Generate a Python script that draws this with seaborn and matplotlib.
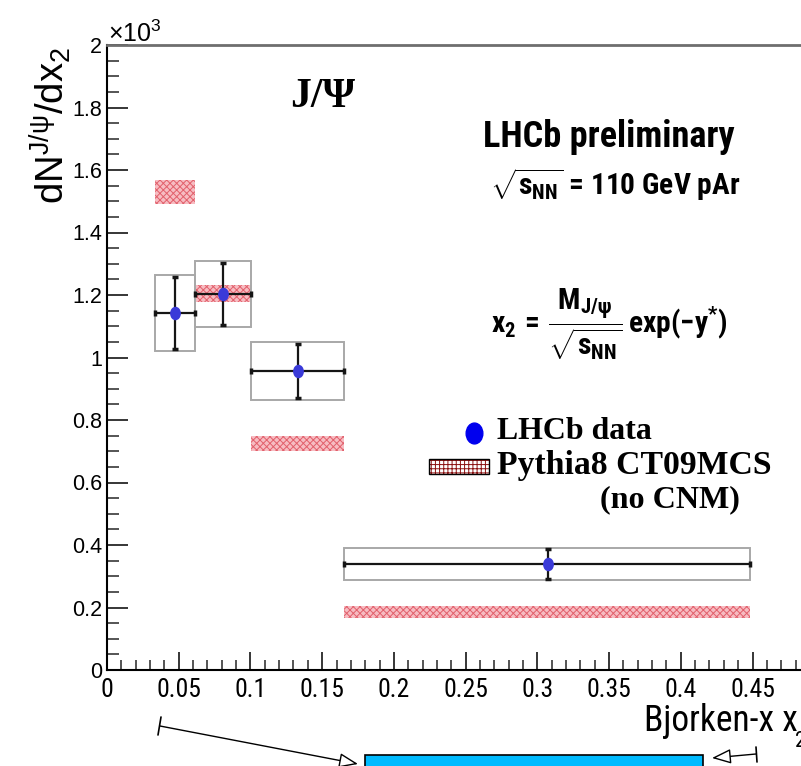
import numpy as np
import matplotlib
matplotlib.use("Agg")
import matplotlib.pyplot as plt
import seaborn as sns
from matplotlib import font_manager
from matplotlib.font_manager import FontProperties
from matplotlib.ticker import MultipleLocator, FuncFormatter
from matplotlib.patches import Rectangle, FancyArrowPatch
from matplotlib.lines import Line2D
from matplotlib.path import Path

# ---------------- data ----------------
x_center = [0.0474, 0.0809, 0.133, 0.3075]
x_low = [0.0335, 0.0614, 0.1004, 0.165]
x_high = [0.0614, 0.1004, 0.165, 0.448]
y_lhcb = [1142, 1203, 957, 339]
y_stat = [115, 100, 85, 47]
y_syst = [121, 106, 93, 50]
pythia_low = [1491, 1178, 700, 166]
pythia_high = [1568, 1232, 749, 205]
legend_labels = ["LHCb data", "Pythia8 CT09MCS", "(no CNM)"]

# ---------------- fonts ----------------
SANS = "Liberation Sans"
SERIF = "Liberation Serif"
FL = font_manager.fontManager.ttflist


def wnum(f):
    w = f.weight
    if isinstance(w, str):
        w = font_manager.weight_dict.get(w, 400)
    return w


def find_condensed():
    groups = []
    for name in ["Liberation Sans Narrow", "Arial Narrow", "Roboto Condensed",
                 "Noto Sans Condensed", "Noto Sans SemiCondensed", "Open Sans Condensed"]:
        c = [f for f in FL if f.name == name and f.style == "normal"]
        if c:
            groups.append((name, None, c))
    for name in ["Noto Sans", "Roboto", "Open Sans", "DejaVu Sans", "Lato", "Inter"]:
        c = [f for f in FL if f.name == name and f.style == "normal"
             and "condensed" in str(f.stretch)]
        if c:
            groups.append((name, c[0].stretch, c))
    return groups[0] if groups else None


cond = find_condensed()
if cond is not None:
    cname, cstretch, cfonts = cond
    bold_entry = min(cfonts, key=lambda f: abs(wnum(f) - 700))
    reg_entry = min(cfonts, key=lambda f: abs(wnum(f) - 400))
    FP_CB = lambda: FontProperties(fname=bold_entry.fname)
    FP_CR = lambda: FontProperties(fname=reg_entry.fname)
    bf_pattern = cname + ":bold" + (":" + cstretch.replace("-", "") if cstretch else "")
else:
    FP_CB = lambda: FontProperties(family=SANS, weight="bold")
    FP_CR = lambda: FontProperties(family=SANS)
    bf_pattern = SANS + ":bold"

sns.set_theme(style="ticks")
plt.rcParams["font.family"] = [SANS, "DejaVu Sans"]
plt.rcParams["mathtext.fontset"] = "custom"
plt.rcParams["mathtext.rm"] = SANS
plt.rcParams["mathtext.it"] = SANS + ":italic"
plt.rcParams["mathtext.bf"] = bf_pattern
plt.rcParams["mathtext.sf"] = SANS
plt.rcParams["mathtext.default"] = "rm"
plt.rcParams["hatch.linewidth"] = 0.7

W, H = 801, 766
fig = plt.figure(figsize=(W / 100, H / 100), dpi=100)
fig.patch.set_facecolor("white")


def P(x, y):
    return (x / W, 1 - y / H)


x0, y0 = P(107, 670)
x1, y1 = P(801, 45)
ax = fig.add_axes([x0, y0, x1 - x0, y1 - y0])
ax.set_facecolor("white")
ax.set_xlim(0, 0.4838)
ax.set_ylim(0, 2000)

xc = np.array(x_center); xl = np.array(x_low); xh = np.array(x_high)
yv = np.array(y_lhcb); ys = np.array(y_syst)
pl = np.array(pythia_low); ph = np.array(pythia_high)

# Pythia bands
ax.bar(xl, ph - pl, width=xh - xl, bottom=pl, align="edge",
       color="#f7bcc2", hatch="xxxxx", edgecolor="#e2606c", linewidth=0, zorder=3)
# systematic boxes
ax.bar(xl, 2 * ys, width=xh - xl, bottom=yv - ys, align="edge",
       fill=False, edgecolor="#a8a8a8", linewidth=1.4, zorder=4)
# stat errors
ax.errorbar(xc, yv, xerr=[xc - xl, xh - xc], yerr=y_stat, fmt="none",
            ecolor="#151515", elinewidth=1.6, capsize=2.5, capthick=2.5, zorder=5)
# markers (ellipse)
circ = Path.unit_circle()
ell = Path(circ.vertices * np.array([0.8, 1.0]), circ.codes)
sns.scatterplot(x=x_center, y=y_lhcb, ax=ax, marker=ell, s=95, color="#3a3ad8",
                linewidth=0, zorder=6, legend=False)

# axes styling
ax.xaxis.set_major_locator(MultipleLocator(0.05))
ax.xaxis.set_minor_locator(MultipleLocator(0.01))
ax.yaxis.set_major_locator(MultipleLocator(200))
ax.yaxis.set_minor_locator(MultipleLocator(50))
ax.xaxis.set_major_formatter(FuncFormatter(lambda v, p: f"{round(v, 3):g}"))
ax.yaxis.set_major_formatter(FuncFormatter(lambda v, p: f"{round(v / 1000, 3):g}"))
ax.tick_params(axis="x", which="major", direction="in", length=13, width=1.1,
               pad=6, colors="black")
ax.tick_params(axis="x", which="minor", direction="in", length=7, width=1.1)
ax.tick_params(axis="y", which="major", direction="in", length=15, width=1.1,
               labelsize=15.5, pad=3.5, labelfontfamily=SANS, colors="black")
ax.tick_params(axis="y", which="minor", direction="in", length=8.5, width=1.1)
ax.tick_params(top=False, right=False, which="both")
for s in ["left", "bottom"]:
    ax.spines[s].set_color("black")
    ax.spines[s].set_linewidth(1.5)
ax.spines["top"].set_color("#6e6e6e")
ax.spines["top"].set_linewidth(2.0)
ax.spines["right"].set_visible(False)

fig.canvas.draw()
R = fig.canvas.get_renderer()


def fit(t, w):
    bb = t.get_window_extent(R)
    t.set_fontsize(t.get_fontsize() * w / bb.width)
    return t


# x tick label size: "0.05" should be ~45 px wide
probe = fig.text(0, 0, "0.05", fontproperties=FP_CR(), fontsize=20)
fit(probe, 45)
xt_size = probe.get_fontsize()
probe.remove()
for lbl in ax.get_xticklabels():
    lbl.set_fontproperties(FP_CR())
    lbl.set_fontsize(xt_size)

# y axis title and multiplier
fig.text(*P(50, 47), r"$\mathrm{dN}^{\mathrm{J/\psi}}/\mathrm{dx}_{2}$", rotation=90,
         ha="center", va="top", fontsize=27.5, color="black")
fig.text(*P(108, 42), r"$\times10^{3}$", ha="left", va="baseline", fontsize=18,
         color="black")

# x axis title
fit(fig.text(*P(644, 731), "Bjorken-x x", ha="left", va="baseline", fontsize=27,
             fontproperties=FP_CR(), color="black"), 154)
fig.text(*P(795, 747), "2", ha="left", va="baseline", fontsize=16,
         fontproperties=FP_CR(), color="black")

# annotations
fit(fig.text(*P(323, 107), "J/\u03a8", ha="center", va="baseline", fontsize=28,
             family=SERIF, weight="bold", color="black"), 65)
fit(fig.text(*P(483, 147), "LHCb preliminary", ha="left", va="baseline", fontsize=26,
             fontproperties=FP_CB(), color="black"), 252)
fit(fig.text(*P(490, 195), r"$\sqrt{\mathbf{s}_{\mathbf{NN}}}$ = 110 GeV pAr", ha="left",
             va="baseline", fontsize=23, fontproperties=FP_CB(), color="black"), 250)
fit(fig.text(*P(491, 324),
             r"$\mathbf{x}_{\mathbf{2}}\,\mathbf{=}\,\dfrac{\mathbf{M}_{\mathbf{J/\psi}}}"
             r"{\sqrt{\mathbf{s}_{\mathbf{NN}}}}\,\mathbf{exp(-y^{*})}$",
             ha="left", va="center", fontsize=24, color="black"), 236)

# legend (drawn by hand)
fig.add_artist(Line2D([P(474, 433)[0]], [P(474, 433)[1]], marker=ell, markersize=15,
                      color="#0000ee", linestyle="none", transform=fig.transFigure))
lx0, ly0 = P(429, 474)
lx1, ly1 = P(489, 459)
fig.add_artist(Rectangle((lx0, ly0), lx1 - lx0, ly1 - ly0, transform=fig.transFigure,
                         facecolor="white", hatch="++++", edgecolor="#8b1010", linewidth=0))
fig.add_artist(Rectangle((lx0, ly0), lx1 - lx0, ly1 - ly0, transform=fig.transFigure,
                         fill=False, edgecolor="black", linewidth=1.0))
fit(fig.text(*P(497, 439), legend_labels[0], ha="left", va="baseline", fontsize=22.5,
             family=SERIF, weight="bold", color="black"), 155)
fit(fig.text(*P(497, 474), legend_labels[1], ha="left", va="baseline", fontsize=22.5,
             family=SERIF, weight="bold", color="black"), 275)
fit(fig.text(*P(600, 507), legend_labels[2], ha="left", va="baseline", fontsize=22.5,
             family=SERIF, weight="bold", color="black"), 140)

# bottom decorations (arrows and cyan box)
bx0, by0 = P(365, 770)
bx1, by1 = P(703, 755)
fig.add_artist(Rectangle((bx0, by0), bx1 - bx0, by1 - by0, transform=fig.transFigure,
                         facecolor="#00bbff", edgecolor="black", linewidth=1.2))
fig.add_artist(Line2D([P(161, 717)[0], P(158, 735)[0]], [P(161, 717)[1], P(158, 735)[1]],
                      color="black", linewidth=1.2, transform=fig.transFigure))
fig.add_artist(FancyArrowPatch(P(160, 726), P(358, 764), transform=fig.transFigure,
                               arrowstyle="-|>,head_length=0.9,head_width=0.35",
                               mutation_scale=13, shrinkA=0, shrinkB=0,
                               facecolor="white", edgecolor="black", linewidth=1.0))
fig.add_artist(Line2D([P(756, 747)[0], P(757, 762)[0]], [P(756, 747)[1], P(757, 762)[1]],
                      color="black", linewidth=1.2, transform=fig.transFigure))
fig.add_artist(FancyArrowPatch(P(756, 754), P(712, 758), transform=fig.transFigure,
                               arrowstyle="-|>,head_length=0.9,head_width=0.35",
                               mutation_scale=13, shrinkA=0, shrinkB=0,
                               facecolor="white", edgecolor="black", linewidth=1.0))

fig.savefig("out.png", dpi=100, facecolor="white")
